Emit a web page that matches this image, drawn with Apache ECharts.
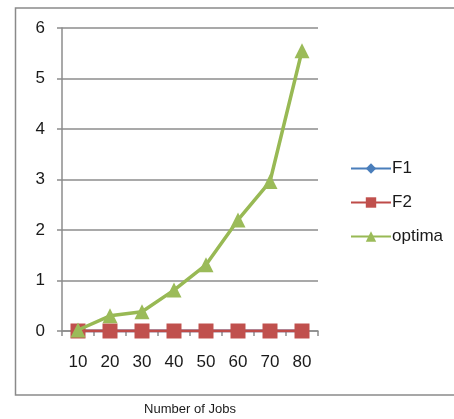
<!DOCTYPE html>
<html>
<head>
<meta charset="utf-8">
<style>
  html, body { margin: 0; padding: 0; background: #ffffff; }
  #chart { width: 454px; height: 419px; }
</style>
<script src="https://cdn.jsdelivr.net/npm/echarts@6/dist/echarts.min.js"></script>
</head>
<body>
<div id="chart"></div>
<script>
// Number of jobs on the category axis
const jobCounts = ['10', '20', '30', '40', '50', '60', '70', '80'];
// Series values
const f1Values = [0, 0, 0, 0, 0, 0, 0, 0];
const f2Values = [0, 0, 0, 0, 0, 0, 0, 0];
const optimaValues = [0.02, 0.30, 0.38, 0.81, 1.31, 2.20, 2.96, 5.55];
// Value axis range
const yMin = 0, yMax = 6, yStep = 1;

const chart = echarts.init(document.getElementById('chart'), null, { renderer: 'canvas' });
const textColor = '#1a1a1a';
const gridColor = '#8c8c8c';
const fontFamily = 'Liberation Sans, Arial, sans-serif';

chart.setOption({
  animation: false,
  backgroundColor: '#ffffff',
  graphic: [{
    type: 'rect',
    left: 13, top: 5.5,
    shape: { x: 0, y: 0, width: 470, height: 387 },
    style: { fill: 'none', stroke: '#8a8a8a', lineWidth: 1.5 },
    z: -1
  }],
  grid: { left: 62, right: 136, top: 28, bottom: 88, containLabel: false, outerBoundsMode: 'none' },
  legend: {
    orient: 'vertical',
    left: 345, top: 155,
    itemGap: 17,
    itemWidth: 40, itemHeight: 13,
    textStyle: { color: textColor, fontSize: 17, fontFamily: fontFamily, padding: [0, 0, 0, -4] },
    data: ['F1', 'F2', 'optima']
  },
  xAxis: {
    type: 'category',
    data: jobCounts,
    boundaryGap: true,
    name: 'Number of Jobs',
    nameLocation: 'middle',
    nameGap: 72,
    nameTextStyle: { color: textColor, fontSize: 13, fontFamily: fontFamily },
    axisLine: { lineStyle: { color: gridColor, width: 1.5 } },
    axisTick: { show: true, alignWithLabel: false, length: 5, lineStyle: { color: gridColor, width: 1.5 } },
    axisLabel: { color: textColor, fontSize: 17, fontFamily: fontFamily, margin: 23 },
    splitLine: { show: false }
  },
  yAxis: {
    type: 'value',
    min: yMin, max: yMax, interval: yStep,
    axisLine: { show: true, lineStyle: { color: gridColor, width: 1.5 } },
    axisTick: { show: true, length: 5, lineStyle: { color: gridColor, width: 1.5 } },
    axisLabel: { color: textColor, fontSize: 17, fontFamily: fontFamily, margin: 17 },
    splitLine: { show: true, lineStyle: { color: gridColor, width: 1.5 } }
  },
  series: [
    {
      name: 'F1', type: 'line', data: f1Values,
      symbol: 'diamond', symbolSize: 11,
      lineStyle: { color: '#4a7ebb', width: 3 },
      itemStyle: { color: '#4a7ebb' },
      z: 2
    },
    {
      name: 'F2', type: 'line', data: f2Values,
      symbol: 'rect', symbolSize: 15,
      lineStyle: { color: '#be4b48', width: 3 },
      itemStyle: { color: '#c0504d' },
      z: 3
    },
    {
      name: 'optima', type: 'line', data: optimaValues,
      symbol: 'triangle', symbolSize: 15,
      lineStyle: { color: '#98b954', width: 3.5 },
      itemStyle: { color: '#9bbb59' },
      z: 4
    }
  ]
});
</script>
</body>
</html>
